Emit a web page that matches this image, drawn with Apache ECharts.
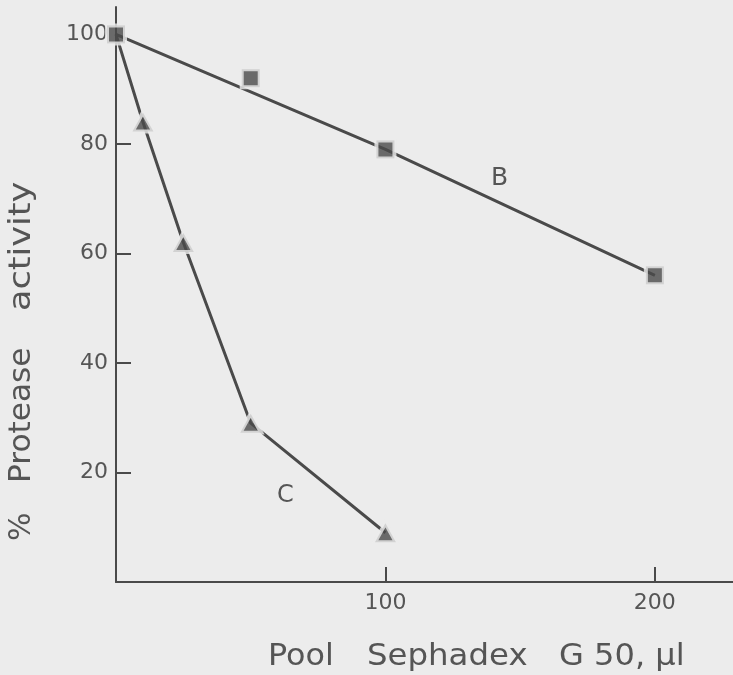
<!DOCTYPE html>
<html>
<head>
<meta charset="utf-8">
<script src="https://cdn.jsdelivr.net/npm/echarts@6/dist/echarts.min.js"></script>
<style>
  html, body { margin: 0; padding: 0; background: #ececec; }
  #chart { width: 733px; height: 675px; }
</style>
</head>
<body>
<div id="chart"></div>
<script>
// 曲线 B：方块点
const bX = [0, 50, 100, 200];
const bY = [100, 92, 79, 56];
// 曲线 B 的连线只经过这几个点（50 处的点偏离直线）
const bLineX = [0, 100, 200];
const bLineY = [100, 79, 56];
// 曲线 C：三角点
const cX = [0, 10, 25, 50, 100];
const cY = [100, 84, 62, 29, 9];
// 刻度
const xTicks = [100, 200];
const yTicks = [20, 40, 60, 80];
const yLabels = [20, 40, 60, 80, 100];

const ink = '#4a4a4a';
const textInk = '#555';
const bg = '#ececec';
const font = 'DejaVu Sans';

const pairs = (xs, ys) => xs.map((x, i) => [x, ys[i]]);

// 坐标轴标题按词分开放置，并横向略微拉宽，模仿原图的几何字体
const titleFont = '30px "DejaVu Sans"';
const xTitle = [['Pool', 268, 1.06], ['Sephadex', 367, 1.08], ['G 50, μl', 559, 1.07]];
const yTitle = [['%', 541, 1.0], ['Protease', 483, 1.04], ['activity', 311, 1.17]];

const chart = echarts.init(document.getElementById('chart'));
chart.setOption({
  backgroundColor: bg,
  animation: false,
  grid: { left: 116, right: 0, top: 7, bottom: 93 },
  xAxis: {
    type: 'value', min: 0, max: 229, interval: 100,
    axisLine: { lineStyle: { color: ink, width: 2 } },
    axisTick: { inside: true, length: 15, customValues: xTicks, lineStyle: { color: ink, width: 2 } },
    axisLabel: { customValues: xTicks, color: textInk, fontFamily: font, fontSize: 22, margin: 10 },
    splitLine: { show: false }
  },
  yAxis: {
    type: 'value', min: 0, max: 105, interval: 20,
    axisLine: { show: true, lineStyle: { color: ink, width: 2 } },
    axisTick: { show: true, inside: true, length: 15, customValues: yTicks, lineStyle: { color: ink, width: 2 } },
    axisLabel: { customValues: yLabels, color: textInk, fontFamily: font, fontSize: 22, margin: 8 },
    splitLine: { show: false }
  },
  graphic: [
    ...xTitle.map(([t, x, s]) => ({ type: 'text', x: x, y: 642, scaleX: s, style: { text: t, fill: textInk, font: titleFont } })),
    ...yTitle.map(([t, y, s]) => ({ type: 'text', x: 7, y: y, rotation: Math.PI / 2, scaleX: s, style: { text: t, fill: textInk, font: titleFont } })),
    { type: 'text', x: 491, y: 166, style: { text: 'B', fill: textInk, font: '25px "DejaVu Sans"' } },
    { type: 'text', x: 277, y: 484, style: { text: 'C', fill: textInk, font: '24px "DejaVu Sans"' } }
  ],
  series: [
    {
      type: 'line', data: pairs(cX, cY), symbol: 'none',
      lineStyle: { color: ink, width: 3 }, z: 2
    },
    {
      type: 'line', data: pairs(bLineX, bLineY), symbol: 'none',
      lineStyle: { color: ink, width: 3 }, z: 2
    },
    {
      type: 'scatter', data: pairs(cX.slice(1), cY.slice(1)), symbol: 'triangle', symbolSize: [21, 19],
      itemStyle: { color: ink, borderColor: bg, borderWidth: 4 }, z: 3
    },
    {
      type: 'scatter', data: pairs(bX, bY), symbol: 'rect', symbolSize: 18,
      itemStyle: { color: ink, borderColor: bg, borderWidth: 4 }, z: 4
    }
  ]
});
</script>
</body>
</html>
